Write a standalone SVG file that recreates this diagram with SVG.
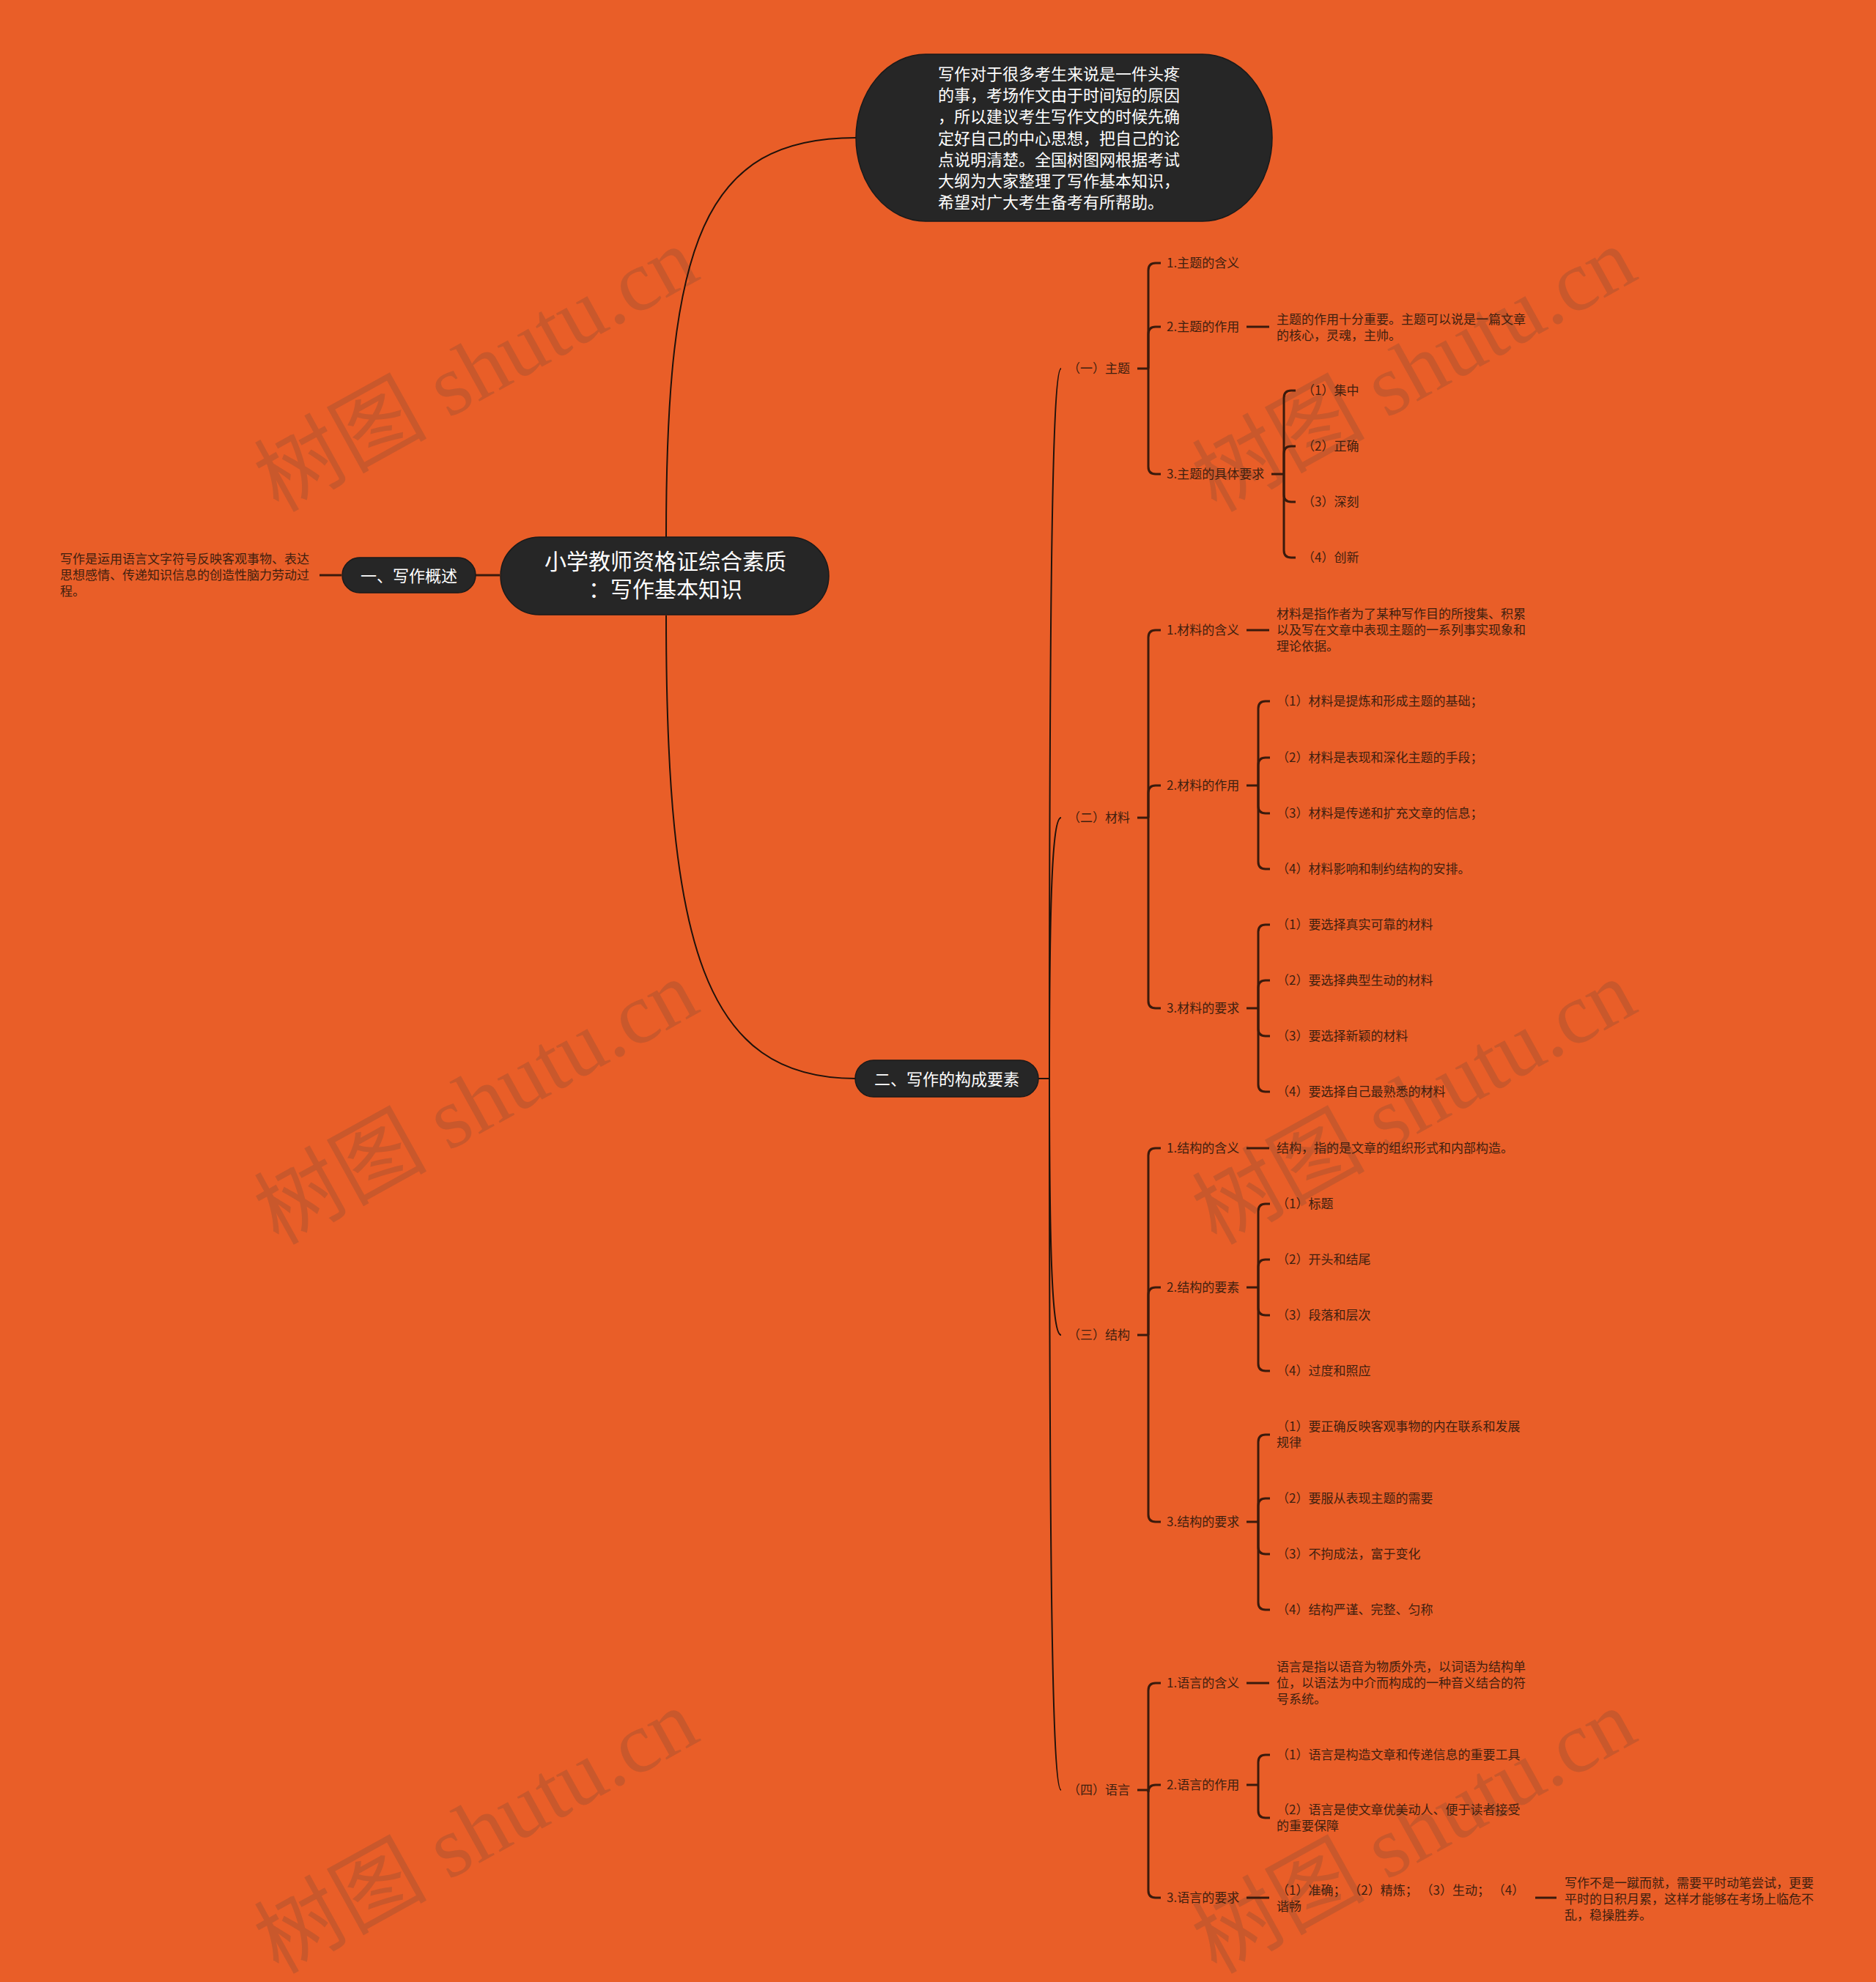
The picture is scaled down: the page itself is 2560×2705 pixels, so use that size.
<svg xmlns="http://www.w3.org/2000/svg" width="2560" height="2705" viewBox="0 0 2560 2705">
<style>
text{font-family:"Noto Sans CJK SC","Noto Sans",sans-serif;dominant-baseline:central}
.t{font-size:17px;fill:#3f1f0f;transform:translate(0,-2px)}
.w22{font-size:22px;fill:#ffffff;transform:translate(0,-2px)}
.w30{font-size:30px;fill:#ffffff}
.node{fill:#262626;stroke:#1a1a1a;stroke-width:1.5}
.main{fill:none;stroke:#1f120b;stroke-width:2}
.br{fill:none;stroke:#3a1a0c;stroke-width:3}
.wm{font-family:"Liberation Serif","Noto Sans CJK SC",serif;font-size:118px;fill:#c9582c}
</style>
<rect x="0" y="0" width="2560" height="2705" fill="#e95e28"/>
<g id="watermarks">
<text class="wm" x="650" y="505" text-anchor="middle" transform="rotate(-29 650 505)">树图 shutu.cn</text>
<text class="wm" x="650" y="1505" text-anchor="middle" transform="rotate(-29 650 1505)">树图 shutu.cn</text>
<text class="wm" x="650" y="2500" text-anchor="middle" transform="rotate(-29 650 2500)">树图 shutu.cn</text>
<text class="wm" x="1930" y="505" text-anchor="middle" transform="rotate(-29 1930 505)">树图 shutu.cn</text>
<text class="wm" x="1930" y="1505" text-anchor="middle" transform="rotate(-29 1930 1505)">树图 shutu.cn</text>
<text class="wm" x="1930" y="2500" text-anchor="middle" transform="rotate(-29 1930 2500)">树图 shutu.cn</text>
</g>
<g id="connectors">
<path class="main" d="M909,733 C909,330 960,188 1168,188"/>
<path class="main" d="M909,840 C909,1290 960,1472 1168,1472"/>
<path class="br" d="M649,785 H682"/>
<path class="br" d="M436,785 H466"/>
<path class="main" d="M1417,1472 H1432"/>
<path class="main" d="M1432,1472 C1432,793 1436,503 1448,503"/>
<path class="main" d="M1432,1472 C1432,1223 1436,1116 1448,1116"/>
<path class="main" d="M1432,1472 C1432,1717 1436,1822 1448,1822"/>
<path class="main" d="M1432,1472 C1432,2152 1436,2443 1448,2443"/>
<path class="br" d="M1552,503 H1567"/>
<path class="br" d="M1567,503 V369 Q1567,359 1577,359 H1584"/>
<path class="br" d="M1567,503 V456 Q1567,446 1577,446 H1584"/>
<path class="br" d="M1567,503 V637 Q1567,647 1577,647 H1584"/>
<path class="br" d="M1701,446 H1732"/>
<path class="br" d="M1735,647 H1752"/>
<path class="br" d="M1752,647 V543 Q1752,533 1762,533 H1768"/>
<path class="br" d="M1752,647 V619 Q1752,609 1762,609 H1768"/>
<path class="br" d="M1752,647 V675 Q1752,685 1762,685 H1768"/>
<path class="br" d="M1752,647 V751 Q1752,761 1762,761 H1768"/>
<path class="br" d="M1552,1116 H1567"/>
<path class="br" d="M1567,1116 V870 Q1567,860 1577,860 H1584"/>
<path class="br" d="M1567,1116 V1082 Q1567,1072 1577,1072 H1584"/>
<path class="br" d="M1567,1116 V1366 Q1567,1376 1577,1376 H1584"/>
<path class="br" d="M1701,860 H1732"/>
<path class="br" d="M1701,1072 H1717"/>
<path class="br" d="M1717,1072 V967 Q1717,957 1727,957 H1733"/>
<path class="br" d="M1717,1072 V1044 Q1717,1034 1727,1034 H1733"/>
<path class="br" d="M1717,1072 V1100 Q1717,1110 1727,1110 H1733"/>
<path class="br" d="M1717,1072 V1176 Q1717,1186 1727,1186 H1733"/>
<path class="br" d="M1701,1376 H1717"/>
<path class="br" d="M1717,1376 V1272 Q1717,1262 1727,1262 H1733"/>
<path class="br" d="M1717,1376 V1348 Q1717,1338 1727,1338 H1733"/>
<path class="br" d="M1717,1376 V1404 Q1717,1414 1727,1414 H1733"/>
<path class="br" d="M1717,1376 V1480 Q1717,1490 1727,1490 H1733"/>
<path class="br" d="M1552,1822 H1567"/>
<path class="br" d="M1567,1822 V1577 Q1567,1567 1577,1567 H1584"/>
<path class="br" d="M1567,1822 V1767 Q1567,1757 1577,1757 H1584"/>
<path class="br" d="M1567,1822 V2067 Q1567,2077 1577,2077 H1584"/>
<path class="br" d="M1701,1567 H1732"/>
<path class="br" d="M1701,1757 H1717"/>
<path class="br" d="M1717,1757 V1653 Q1717,1643 1727,1643 H1733"/>
<path class="br" d="M1717,1757 V1729 Q1717,1719 1727,1719 H1733"/>
<path class="br" d="M1717,1757 V1785 Q1717,1795 1727,1795 H1733"/>
<path class="br" d="M1717,1757 V1861 Q1717,1871 1727,1871 H1733"/>
<path class="br" d="M1701,2077 H1717"/>
<path class="br" d="M1717,2077 V1968 Q1717,1958 1727,1958 H1733"/>
<path class="br" d="M1717,2077 V2055 Q1717,2045 1727,2045 H1733"/>
<path class="br" d="M1717,2077 V2111 Q1717,2121 1727,2121 H1733"/>
<path class="br" d="M1717,2077 V2187 Q1717,2197 1727,2197 H1733"/>
<path class="br" d="M1552,2443 H1567"/>
<path class="br" d="M1567,2443 V2307 Q1567,2297 1577,2297 H1584"/>
<path class="br" d="M1567,2443 V2446 Q1567,2436 1577,2436 H1584"/>
<path class="br" d="M1567,2443 V2580 Q1567,2590 1577,2590 H1584"/>
<path class="br" d="M1701,2297 H1732"/>
<path class="br" d="M1701,2436 H1717"/>
<path class="br" d="M1717,2436 V2405 Q1717,2395 1727,2395 H1733"/>
<path class="br" d="M1717,2436 V2471 Q1717,2481 1727,2481 H1733"/>
<path class="br" d="M1701,2590 H1732"/>
<path class="br" d="M2095,2590 H2124"/>
</g>
<g id="root">
<rect class="node" x="683" y="733" width="448" height="106" rx="53" ry="53"/>
<text class="w30" x="908" y="764" text-anchor="middle">小学教师资格证综合素质</text>
<text class="w30" x="908" y="802" text-anchor="middle">：写作基本知识</text>
</g>
<g id="intro">
<rect class="node" x="1168" y="74" width="568" height="228" rx="95" ry="114"/>
<text class="w22" x="1280" y="101">写作对于很多考生来说是一件头疼</text>
<text class="w22" x="1280" y="130">的事，考场作文由于时间短的原因</text>
<text class="w22" x="1280" y="159">，所以建议考生写作文的时候先确</text>
<text class="w22" x="1280" y="189">定好自己的中心思想，把自己的论</text>
<text class="w22" x="1280" y="218">点说明清楚。全国树图网根据考试</text>
<text class="w22" x="1280" y="247">大纲为大家整理了写作基本知识，</text>
<text class="w22" x="1280" y="276">希望对广大考生备考有所帮助。</text>
</g>
<g id="n1">
<rect class="node" x="467" y="761" width="182" height="48" rx="24" ry="24"/>
<text class="w22" x="558" y="786" text-anchor="middle">一、写作概述</text>
</g>
<g id="n1-desc">
<text class="t" x="82" y="763">写作是运用语言文字符号反映客观事物、表达</text>
<text class="t" x="82" y="785">思想感情、传递知识信息的创造性脑力劳动过</text>
<text class="t" x="82" y="807">程。</text>
</g>
<g id="n2">
<rect class="node" x="1167" y="1447" width="250" height="50" rx="25" ry="25"/>
<text class="w22" x="1292" y="1473" text-anchor="middle">二、写作的构成要素</text>
</g>
<g id="b1">
<text class="t" x="1457" y="503">（一）主题</text>
<text class="t" x="1592" y="359">1.主题的含义</text>
<text class="t" x="1592" y="446">2.主题的作用</text>
<text class="t" x="1742" y="436">主题的作用十分重要。主题可以说是一篇文章</text>
<text class="t" x="1742" y="458">的核心，灵魂，主帅。</text>
<text class="t" x="1592" y="647">3.主题的具体要求</text>
<text class="t" x="1777" y="533">（1）集中</text>
<text class="t" x="1777" y="609">（2）正确</text>
<text class="t" x="1777" y="685">（3）深刻</text>
<text class="t" x="1777" y="761">（4）创新</text>
</g>
<g id="b2">
<text class="t" x="1457" y="1116">（二）材料</text>
<text class="t" x="1592" y="860">1.材料的含义</text>
<text class="t" x="1742" y="838">材料是指作者为了某种写作目的所搜集、积累</text>
<text class="t" x="1742" y="860">以及写在文章中表现主题的一系列事实现象和</text>
<text class="t" x="1742" y="882">理论依据。</text>
<text class="t" x="1592" y="1072">2.材料的作用</text>
<text class="t" x="1742" y="957">（1）材料是提炼和形成主题的基础；</text>
<text class="t" x="1742" y="1034">（2）材料是表现和深化主题的手段；</text>
<text class="t" x="1742" y="1110">（3）材料是传递和扩充文章的信息；</text>
<text class="t" x="1742" y="1186">（4）材料影响和制约结构的安排。</text>
<text class="t" x="1592" y="1376">3.材料的要求</text>
<text class="t" x="1742" y="1262">（1）要选择真实可靠的材料</text>
<text class="t" x="1742" y="1338">（2）要选择典型生动的材料</text>
<text class="t" x="1742" y="1414">（3）要选择新颖的材料</text>
<text class="t" x="1742" y="1490">（4）要选择自己最熟悉的材料</text>
</g>
<g id="b3">
<text class="t" x="1457" y="1822">（三）结构</text>
<text class="t" x="1592" y="1567">1.结构的含义</text>
<text class="t" x="1742" y="1567">结构，指的是文章的组织形式和内部构造。</text>
<text class="t" x="1592" y="1757">2.结构的要素</text>
<text class="t" x="1742" y="1643">（1）标题</text>
<text class="t" x="1742" y="1719">（2）开头和结尾</text>
<text class="t" x="1742" y="1795">（3）段落和层次</text>
<text class="t" x="1742" y="1871">（4）过度和照应</text>
<text class="t" x="1592" y="2077">3.结构的要求</text>
<text class="t" x="1742" y="1947">（1）要正确反映客观事物的内在联系和发展</text>
<text class="t" x="1742" y="1969">规律</text>
<text class="t" x="1742" y="2045">（2）要服从表现主题的需要</text>
<text class="t" x="1742" y="2121">（3）不拘成法，富于变化</text>
<text class="t" x="1742" y="2197">（4）结构严谨、完整、匀称</text>
</g>
<g id="b4">
<text class="t" x="1457" y="2443">（四）语言</text>
<text class="t" x="1592" y="2297">1.语言的含义</text>
<text class="t" x="1742" y="2275">语言是指以语音为物质外壳，以词语为结构单</text>
<text class="t" x="1742" y="2297">位，以语法为中介而构成的一种音义结合的符</text>
<text class="t" x="1742" y="2319">号系统。</text>
<text class="t" x="1592" y="2436">2.语言的作用</text>
<text class="t" x="1742" y="2395">（1）语言是构造文章和传递信息的重要工具</text>
<text class="t" x="1742" y="2470">（2）语言是使文章优美动人、便于读者接受</text>
<text class="t" x="1742" y="2492">的重要保障</text>
<text class="t" x="1592" y="2590">3.语言的要求</text>
<text class="t" x="1742" y="2580">（1）准确； （2）精炼； （3）生动； （4）</text>
<text class="t" x="1742" y="2602">谐畅</text>
<text class="t" x="2135" y="2570">写作不是一蹴而就，需要平时动笔尝试，更要</text>
<text class="t" x="2135" y="2592">平时的日积月累，这样才能够在考场上临危不</text>
<text class="t" x="2135" y="2614">乱，稳操胜券。</text>
</g>
</svg>
